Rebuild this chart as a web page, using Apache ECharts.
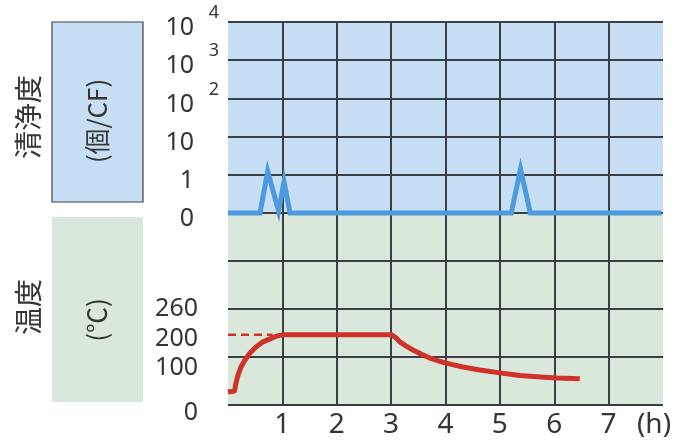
<!DOCTYPE html>
<html>
<head>
<meta charset="utf-8">
<script src="https://cdn.jsdelivr.net/npm/echarts@6/dist/echarts.min.js"></script>
<style>
html,body{margin:0;padding:0;background:#fff;}
#c{width:684px;height:446px;}
</style>
</head>
<body>
<div id="c"></div>
<script>
// ---- data ----
const xTickLabels = ['', '1', '2', '3', '4', '5', '6', '7', '(h)'];
const cleanBaseLabels = ['0', '1', '10', '10', '10', '10'];
const cleanExpLabels = ['', '', '', '2', '3', '4'];
const tempTicks = [0, 100, 200, 260];
// cleanliness (axis position units: 0, 1, 10, 10^2, 10^3, 10^4)
const cleanHours = [0, 0.59, 0.73, 0.93, 1.03, 1.14, 5.21, 5.38, 5.56, 7.97];
const cleanValues = [0, 0, 1.09, 0.05, 0.82, 0, 0, 1.15, 0, 0];
// temperature (°C)
const tempHours = [0, 0.12, 0.147, 0.184, 0.239, 0.313, 0.404, 0.515, 0.643, 0.772, 0.9, 1.01, 3.01, 3.09, 3.16, 3.27, 3.4, 3.55, 3.71, 3.99, 4.32, 4.63, 5.0, 5.37, 5.74, 6.05, 6.47];
const tempValues = [35, 38, 60, 81, 103, 122, 141, 157, 171, 179, 187, 190, 190, 182, 171, 160, 149, 138, 127, 114, 103, 95, 87, 80, 76, 73, 71];
const setHours = [0, 0.82];
const setValues = [190, 190];

const pair = (xs, ys) => xs.map((x, i) => [x, ys[i]]);

const GRID = '#3a3f44';
const TXT = '#353535';
const FONT = '"Noto Sans", "Open Sans", sans-serif';
const CJK = '"Noto Sans CJK JP", "Noto Sans", sans-serif';

const chart = echarts.init(document.getElementById('c'), null, {renderer: 'canvas'});

const xBase = (gridIndex, showLabels) => ({
  type: 'value', gridIndex, min: 0, max: 8, interval: 1,
  axisLine: {show: false}, axisTick: {show: false},
  splitLine: {show: true, showMinLine: false, showMaxLine: false, lineStyle: {color: GRID, width: 2}},
  axisLabel: showLabels ? {
    show: true, margin: 6, fontSize: 28, color: TXT, fontFamily: FONT,
    showMinLabel: false, showMaxLabel: true,
    formatter: (v) => {
      const t = xTickLabels[Math.round(v)];
      return Math.round(v) === 8 ? '{h|' + t + '}' : t;
    },
    rich: {h: {fontSize: 28, color: TXT, fontFamily: FONT, padding: [0, 18, 0, 0]}}
  } : {show: false}
});

const tempAxis = (values, withSplit, shift) => ({
  type: 'value', gridIndex: 1, min: 0, max: 520, interval: 130, position: 'left',
  axisLine: {show: false}, axisTick: {show: false},
  splitLine: {show: withSplit, lineStyle: {color: GRID, width: 2}},
  axisLabel: {
    margin: 30, color: TXT, hideOverlap: false,
    customValues: values,
    showMinLabel: true, showMaxLabel: true,
    formatter: (v) => (shift ? '{s| }\n' : '') + '{t|' + v + '}',
    rich: {
      s: {fontSize: 8, lineHeight: shift * 2},
      t: {fontSize: 25, lineHeight: 20, color: TXT, fontFamily: FONT, align: 'right'}
    }
  }
});

chart.setOption({
  animation: false,
  backgroundColor: '#ffffff',
  grid: [
    {left: 228, right: 21, top: 22, height: 191, show: true, backgroundColor: '#c6dff4', borderWidth: 0, containLabel: false},
    {left: 228, right: 21, top: 213, height: 192, show: true, backgroundColor: '#d9e8da', borderWidth: 0, containLabel: false}
  ],
  xAxis: [xBase(0, false), xBase(1, true)],
  yAxis: [
    {
      type: 'value', gridIndex: 0, min: 0, max: 5, interval: 1,
      axisLine: {show: false}, axisTick: {show: false},
      splitLine: {show: true, lineStyle: {color: GRID, width: 2}},
      axisLabel: {
        margin: 34, color: TXT, hideOverlap: false,
        showMinLabel: true, showMaxLabel: true,
        formatter: (v) => '{s| }\n{b|' + cleanBaseLabels[Math.round(v)] + '}',
        rich: {
          s: {fontSize: 10, lineHeight: 12},
          b: {fontSize: 25, lineHeight: 26, color: TXT, fontFamily: FONT, align: 'right'}
        }
      }
    },
    {
      type: 'value', gridIndex: 0, min: 0, max: 5, interval: 1, position: 'left',
      axisLine: {show: false}, axisTick: {show: false}, splitLine: {show: false},
      axisLabel: {
        margin: 9, color: TXT, hideOverlap: false,
        showMinLabel: true, showMaxLabel: true,
        formatter: (v) => '{e|' + (cleanExpLabels[Math.round(v)] || ' ') + '}\n{s| }',
        rich: {
          e: {fontSize: 18, lineHeight: 18, color: TXT, fontFamily: FONT, align: 'right'},
          s: {fontSize: 10, lineHeight: 18}
        }
      }
    },
    tempAxis(tempTicks.filter((_, i) => i % 2 === 1), true, 0),
    tempAxis(tempTicks.filter((_, i) => i % 2 === 0), false, 8)
  ],
  series: [
    {
      type: 'line', xAxisIndex: 0, yAxisIndex: 0, data: pair(cleanHours, cleanValues),
      symbol: 'none', clip: false, z: 5,
      lineStyle: {color: '#4d9ae0', width: 5, join: 'miter'}
    },
    {
      type: 'line', xAxisIndex: 1, yAxisIndex: 2, data: pair(setHours, setValues),
      symbol: 'none', clip: false, z: 4,
      lineStyle: {color: '#d03229', width: 2.5, type: [8, 5]}
    },
    {
      type: 'line', xAxisIndex: 1, yAxisIndex: 2, data: pair(tempHours, tempValues),
      symbol: 'none', clip: false, smooth: false, z: 5,
      lineStyle: {color: '#d03229', width: 5, cap: 'butt', join: 'round'}
    }
  ],
  graphic: [
    {type: 'rect', shape: {x: 52, y: 22, width: 91, height: 180}, style: {fill: '#c6dff4', stroke: '#444', lineWidth: 1.2}},
    {type: 'rect', shape: {x: 52, y: 217, width: 91, height: 185}, style: {fill: '#d9e8da'}},
    {type: 'text', x: 28, y: 117, rotation: Math.PI / 2,
      style: {text: '清浄度', font: '28px ' + CJK, fill: TXT, align: 'center', verticalAlign: 'middle'}},
    {type: 'text', x: 28, y: 307, rotation: Math.PI / 2,
      style: {text: '温度', font: '28px ' + CJK, fill: TXT, align: 'center', verticalAlign: 'middle'}},
    {type: 'text', x: 97, y: 121, rotation: Math.PI / 2,
      style: {text: '(個/CF)', font: '26px ' + CJK, fill: TXT, align: 'center', verticalAlign: 'middle'}},
    {type: 'text', x: 97, y: 320, rotation: Math.PI / 2,
      style: {text: '(℃)', font: '26px ' + CJK, fill: TXT, align: 'center', verticalAlign: 'middle'}}
  ]
});
</script>
</body>
</html>
